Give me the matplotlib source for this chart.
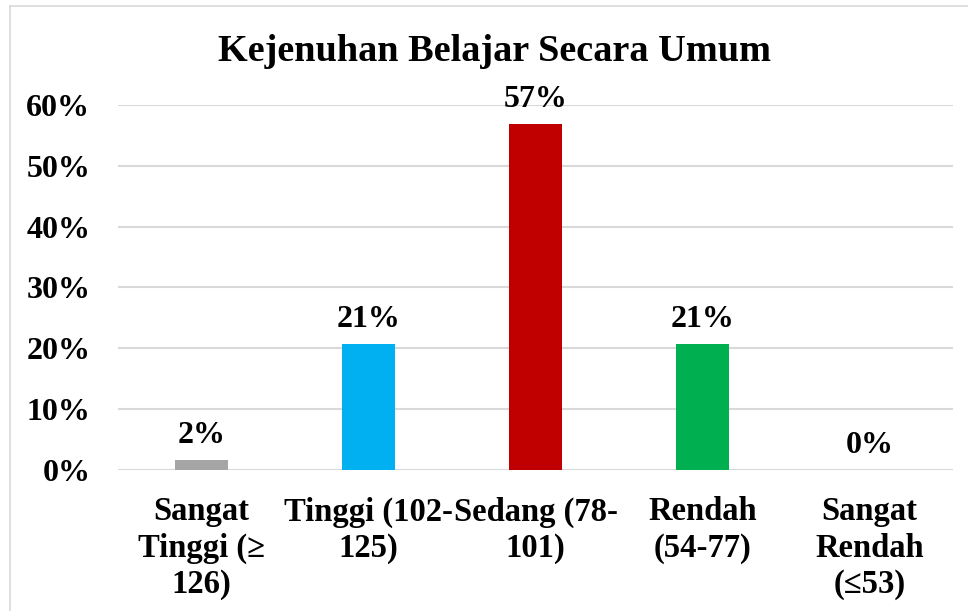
import numpy as np
import matplotlib.pyplot as plt
from matplotlib.lines import Line2D
from matplotlib.ticker import FuncFormatter

plt.rcParams['font.family'] = ['Liberation Serif', 'DejaVu Serif']
plt.rcParams['font.weight'] = 'bold'

# data (persen)
kategori = ["Sangat\nTinggi (≥\n126)", "Tinggi (102-\n125)", "Sedang (78-\n101)",
            "Rendah\n(54-77)", "Sangat\nRendah\n(≤53)"]
nilai = [1.72, 20.69, 56.90, 20.69, 0.0]
label = ["2%", "21%", "57%", "21%", "0%"]
warna = ["#a5a5a5", "#00b0f0", "#c00000", "#00b050", "#4472c4"]

fig = plt.figure(figsize=(9.68, 6.11), dpi=100)
ax = fig.add_axes([0.122, 0.2308, 0.8625, 0.5974])

x = np.arange(len(kategori))
bars = ax.bar(x, nilai, width=0.32, color=warna, zorder=3)

for xi, v, t in zip(x, nilai, label):
    ax.annotate(t, (xi, v), xytext=(0, 7), textcoords="offset points",
                ha="center", va="bottom", fontsize=23, fontweight="bold")

ax.set_xlim(-0.5, len(kategori) - 0.5)
ax.set_ylim(0, 60)
ax.set_yticks(np.arange(0, 61, 10))
ax.yaxis.set_major_formatter(FuncFormatter(lambda v, p: f"{v:.0f}%"))
ax.set_xticks(x)
ax.set_xticklabels(kategori, fontsize=23.5, fontweight="bold", linespacing=1.22)
ax.tick_params(axis="both", length=0)
ax.tick_params(axis="y", labelsize=23, pad=20)
ax.tick_params(axis="x", pad=19)
for lbl in ax.get_yticklabels():
    lbl.set_fontweight("bold")

ax.grid(axis="y", color="#d9d9d9", linewidth=1.5, zorder=0)
for s in ax.spines.values():
    s.set_visible(False)

fig.suptitle("Kejenuhan Belajar Secara Umum", fontsize=27.5, fontweight="bold",
             x=0.511, y=0.945)

# bingkai tipis kiri dan atas
fig.add_artist(Line2D([10/968, 10/968], [0, 1 - 6/611], transform=fig.transFigure,
                      color="#d9d9d9", linewidth=1.2))
fig.add_artist(Line2D([10/968, 1], [1 - 6/611, 1 - 6/611], transform=fig.transFigure,
                      color="#d9d9d9", linewidth=1.2))

plt.savefig("out.png", dpi=100)
